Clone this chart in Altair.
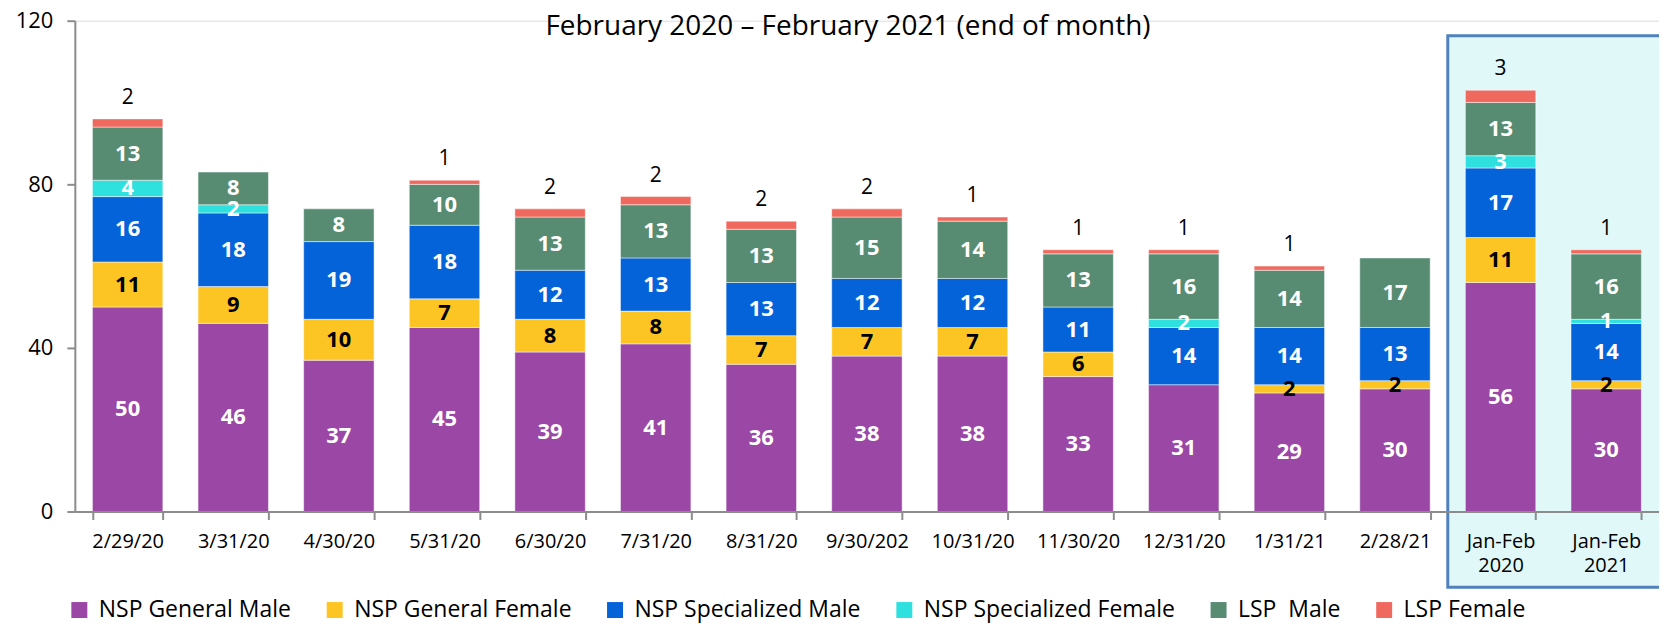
import altair as alt
import pandas as pd

categories = ["2/29/20", "3/31/20", "4/30/20", "5/31/20", "6/30/20", "7/31/20",
              "8/31/20", "9/30/202", "10/31/20", "11/30/20", "12/31/20", "1/31/21",
              "2/28/21", "Jan-Feb 2020", "Jan-Feb 2021"]
series_names = ["NSP General Male", "NSP General Female", "NSP Specialized Male",
                "NSP Specialized Female", "LSP\u00a0 Male", "LSP Female"]
nsp_general_male = [50, 46, 37, 45, 39, 41, 36, 38, 38, 33, 31, 29, 30, 56, 30]
nsp_general_female = [11, 9, 10, 7, 8, 8, 7, 7, 7, 6, 0, 2, 2, 11, 2]
nsp_specialized_male = [16, 18, 19, 18, 12, 13, 13, 12, 12, 11, 14, 14, 13, 17, 14]
nsp_specialized_female = [4, 2, 0, 0, 0, 0, 0, 0, 0, 0, 2, 0, 0, 3, 1]
lsp_male = [13, 8, 8, 10, 13, 13, 13, 15, 14, 13, 16, 14, 17, 13, 16]
lsp_female = [2, 0, 0, 1, 2, 2, 2, 2, 1, 1, 1, 1, 0, 3, 1]
colors = ["#9A47A5", "#FDC524", "#0563DA", "#2EE0DE", "#578C73", "#F0695F"]
y_ticks = [0, 40, 80, 120]
title_text = "February 2020 \u2013 February 2021 (end of month)"

FONT = "Open Sans"

all_series = [nsp_general_male, nsp_general_female, nsp_specialized_male,
              nsp_specialized_female, lsp_male, lsp_female]
rows = []
for s_idx, (name, vals) in enumerate(zip(series_names, all_series)):
    for cat, v in zip(categories, vals):
        rows.append({"cat": cat, "series": name, "order": s_idx, "value": v})
df = pd.DataFrame(rows)

W, H = 1588, 492
step = W / len(categories)

x_enc = alt.X(
    "cat:N", sort=categories,
    scale=alt.Scale(paddingInner=1 / 3, paddingOuter=1 / 6),
    axis=alt.Axis(title=None, labelAngle=0, tickBand="extent", tickSize=8,
                  tickWidth=2, tickColor="#8c8c8c", domainColor="#8c8c8c",
                  domainWidth=2, labelFont=FONT, labelFontSize=20,
                  labelColor="black", labelPadding=12, labelOverlap=False,
                  labelExpr="split(datum.label, ' ')", labelLineHeight=24,
                  zindex=1),
)
y_scale = alt.Scale(domain=[0, 120], nice=False)

base = alt.Chart(df).transform_stack(
    stack="value", groupby=["cat"], as_=["y0", "y1"],
    sort=[alt.SortField("order", order="ascending")],
).transform_calculate(mid="(datum.y0 + datum.y1) / 2")

bars = base.transform_filter("datum.value > 0").mark_bar(
    stroke="white", strokeWidth=0.8, strokeOpacity=0.6
).encode(
    x=x_enc,
    y=alt.Y("y0:Q", scale=y_scale,
            axis=alt.Axis(values=y_ticks, grid=False, title=None, tickSize=8,
                          tickWidth=2, tickColor="#8c8c8c", domainColor="#8c8c8c",
                          domainWidth=2, labelFont=FONT, labelFontSize=22,
                          labelColor="black", labelPadding=14, zindex=1)),
    y2="y1:Q",
    color=alt.Color("series:N", scale=alt.Scale(domain=series_names, range=colors),
                    legend=alt.Legend(title=None, orient="none", legendX=-7,
                                      legendY=579, direction="horizontal",
                                      symbolType="square", symbolSize=256,
                                      symbolStrokeWidth=0, labelFont=FONT,
                                      labelFontSize=23, labelColor="black",
                                      labelOffset=8, columnPadding=32,
                                      labelLimit=400)),
)

inner_labels = base.transform_filter(
    "datum.value > 0 && datum.series != 'LSP Female'"
).mark_text(font=FONT, fontSize=22, fontWeight="bold", baseline="middle",
            align="center").encode(
    x=alt.X("cat:N", sort=categories),
    y=alt.Y("mid:Q", scale=y_scale),
    text=alt.Text("value:Q"),
    color=alt.condition(alt.datum.series == "NSP General Female",
                        alt.value("black"), alt.value("white")),
)

top_labels = base.transform_filter(
    "datum.value > 0 && datum.series == 'LSP Female'"
).mark_text(font=FONT, fontSize=21, baseline="middle", align="center",
            dy=-21, color="black").encode(
    x=alt.X("cat:N", sort=categories),
    y=alt.Y("y1:Q", scale=y_scale),
    text=alt.Text("value:Q"),
)

box_df = pd.DataFrame({"label": ["Jan-Feb"]})
box = alt.Chart(box_df).mark_rect(
    fill="#e0f8f8", stroke="#4F81BD", strokeWidth=3
).encode(
    x=alt.value(13 * step), x2=alt.value(W + 60),
    y=alt.value(15), y2=alt.value(568),
)

title_df = pd.DataFrame({"t": [title_text]})
title = alt.Chart(title_df).mark_text(
    font=FONT, fontSize=28, baseline="alphabetic", align="center", color="black"
).encode(x=alt.value(775), y=alt.value(14), text="t:N")

chart = alt.layer(box, bars, inner_labels, top_labels, title).properties(
    width=W, height=H,
    padding={"left": 67, "top": 12, "right": 0, "bottom": 112},
    autosize=alt.AutoSizeParams(type="none"),
).configure_view(stroke=None).configure(background="white")

chart.save("out.html", embed_options={"renderer": "svg", "actions": False})
